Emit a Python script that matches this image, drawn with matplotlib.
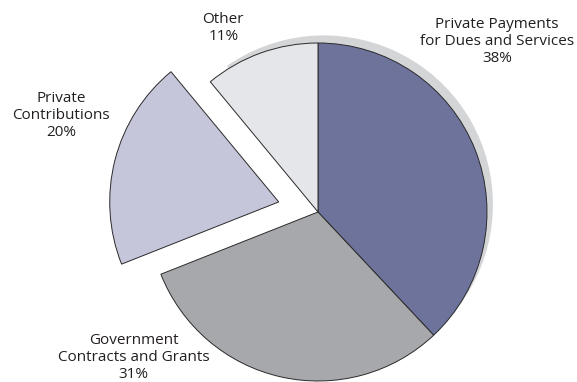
import matplotlib
matplotlib.use("Agg")
import matplotlib.pyplot as plt
from matplotlib.patches import Wedge
import numpy as np

# data
labels = ["Private Payments\nfor Dues and Services", "Government\nContracts and Grants",
          "Private\nContributions", "Other"]
shares = [38, 31, 20, 11]
colors = ["#6e739c", "#a7a8ac", "#c5c6da", "#e5e6e9"]
explode = [0, 0, 0.24, 0]

# label anchor positions (data units, pie radius = 1)
label_xy = [(1.06, 1.01), (-1.09, -0.86), (-1.52, 0.57), (-0.56, 1.09)]

plt.rcParams['font.family'] = ['Open Sans', 'DejaVu Sans']

fig = plt.figure(figsize=(5.77, 3.82), dpi=100)
ax = fig.add_axes([0, 0, 1, 1])

# shadow behind the upper right part of the pie
shadow = Wedge((0.035, 0.045), 1.0, -110, 125, color="#d4d5d7", zorder=0, lw=0)
ax.add_patch(shadow)

wedges, _ = ax.pie(shares, colors=colors, explode=explode, startangle=90,
                   counterclock=False, radius=1.0,
                   wedgeprops=dict(edgecolor="#2a2a2a", linewidth=0.7))
for w in wedges:
    w.set_zorder(1)

for lab, s, (x, y) in zip(labels, shares, label_xy):
    ax.text(x, y, f"{lab}\n{s}%", ha="center", va="center", fontsize=11,
            color="#231f20", linespacing=1.2)

ax.set_xlim(-318 / 169, (577 - 318) / 169)
ax.set_ylim(-170 / 169, 212 / 169)
ax.set_aspect("auto")
ax.axis("off")

fig.savefig("out.png", dpi=100)
